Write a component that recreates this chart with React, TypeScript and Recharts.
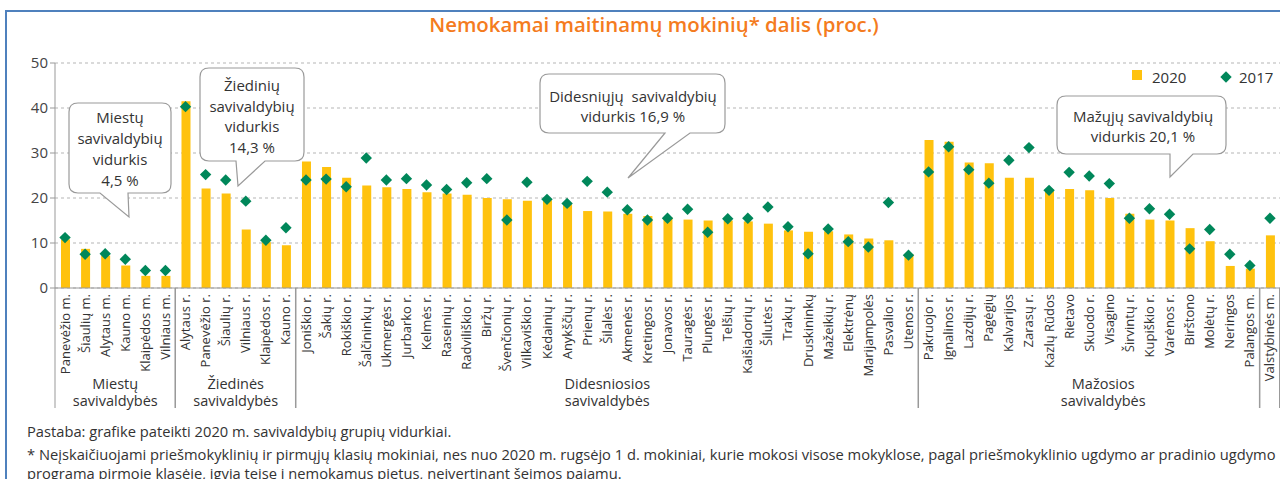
import React from "react";
import {
  ComposedChart,
  Bar,
  Scatter,
  XAxis,
  YAxis,
  CartesianGrid,
} from "recharts";

const municipalities = [
  "Panevėžio m.", "Šiaulių m.", "Alytaus m.", "Kauno m.", "Klaipėdos m.", "Vilniaus m.",
  "Alytaus r.", "Panevėžio r.", "Šiaulių r.", "Vilniaus r.", "Klaipėdos r.", "Kauno r.",
  "Joniškio r.", "Šakių r.", "Rokiškio r.", "Šalčininkų r.", "Ukmergės r.", "Jurbarko r.",
  "Kelmės r.", "Raseinių r.", "Radviliškio r.", "Biržų r.", "Švenčionių r.", "Vilkaviškio r.",
  "Kėdainių r.", "Anykščių r.", "Prienų r.", "Šilalės r.", "Akmenės r.", "Kretingos r.",
  "Jonavos r.", "Tauragės r.", "Plungės r.", "Telšių r.", "Kaišiadorių r.", "Šilutės r.",
  "Trakų r.", "Druskininkų", "Mažeikių r.", "Elektrėnų", "Marijampolės", "Pasvalio r.",
  "Utenos r.",
  "Pakruojo r.", "Ignalinos r.", "Lazdijų r.", "Pagėgių", "Kalvarijos", "Zarasų r.",
  "Kazlų Rūdos", "Rietavo", "Skuodo r.", "Visagino", "Širvintų r.", "Kupiškio r.",
  "Varėnos r.", "Birštono", "Molėtų r.", "Neringos", "Palangos m.",
  "Valstybinės m.",
];

const share2020 = [
  10.8, 8.7, 7.2, 5.0, 2.7, 2.7,
  41.5, 22.1, 21.0, 13.0, 10.2, 9.5,
  28.1, 26.9, 24.5, 22.8, 22.4, 22.0,
  21.3, 21.0, 20.7, 20.0, 19.7, 19.4,
  19.5, 18.6, 17.1, 17.0, 16.5, 16.0,
  15.7, 15.2, 15.0, 15.0, 14.8, 14.3,
  12.8, 12.5, 12.6, 11.9, 11.0, 10.6,
  7.5,
  32.9, 32.5, 27.9, 27.7, 24.5, 24.5,
  21.9, 22.0, 21.7, 20.0, 16.5, 15.2,
  15.0, 13.3, 10.4, 4.9, 4.3,
  11.7,
];

const share2017 = [
  11.2, 7.5, 7.6, 6.4, 3.9, 3.9,
  40.3, 25.2, 24.0, 19.3, 10.6, 13.4,
  24.0, 24.2, 22.5, 28.9, 24.0, 24.3,
  22.9, 21.9, 23.4, 24.3, 15.1, 23.5,
  19.7, 18.8, 23.7, 21.3, 17.4, 15.1,
  15.5, 17.5, 12.4, 15.4, 15.5, 18.0,
  13.6, 7.6, 13.1, 10.3, 9.1, 19.0,
  7.3,
  25.8, 31.4, 26.3, 23.3, 28.4, 31.2,
  21.7, 25.7, 24.9, 23.2, 15.5, 17.6,
  16.4, 8.7, 13.0, 7.5, 5.0,
  15.5,
];

const groupNames = [
  ["Miestų", "savivaldybės"],
  ["Žiedinės", "savivaldybės"],
  ["Didesniosios", "savivaldybės"],
  ["Mažosios", "savivaldybės"],
  ["", ""],
];
const groupSizes = [6, 6, 31, 17, 1];

const calloutTexts = [
  ["Miestų", "savivaldybių", "vidurkis", "4,5 %"],
  ["Žiedinių", "savivaldybių", "vidurkis", "14,3 %"],
  ["Didesniųjų  savivaldybių", "vidurkis 16,9 %"],
  ["Mažųjų savivaldybių", "vidurkis 20,1 %"],
];

const seriesNames = ["2020", "2017"];

const rows = municipalities.map((name, i) => ({
  name,
  y2020: share2020[i],
  y2017: share2017[i],
}));

const FONT = "'Open Sans', 'Noto Sans', sans-serif";
const YELLOW = "#FFC20E";
const GREEN = "#00875A";
const W = 1280;
const H = 479;
const PLOT_LEFT = 55;
const PLOT_RIGHT = 1280;
const PLOT_TOP = 63;
const PLOT_BOTTOM = 288;
const BAND = (PLOT_RIGHT - PLOT_LEFT) / municipalities.length;

// callout boxes: box, pointer base on bottom edge, pointer tip
const calloutBoxes = [
  { x1: 69, y1: 103, x2: 171, y2: 193, b1: 100, b2: 128, tx: 129, ty: 217, cx: 120, top: 123, lh: 21 },
  { x1: 200, y1: 68, x2: 304, y2: 161, b1: 236, b2: 265, tx: 238, ty: 186, cx: 252, top: 91, lh: 20.5 },
  { x1: 540, y1: 74, x2: 725, y2: 133, b1: 665, b2: 690, tx: 628, ty: 178, cx: 633, top: 102, lh: 20 },
  { x1: 1057, y1: 96, x2: 1226, y2: 154, b1: 1170, b2: 1193, tx: 1170, ty: 177, cx: 1143, top: 122, lh: 20 },
];

const calloutPath = (b: any) => {
  const r = 9;
  return [
    `M${b.x1 + r},${b.y1}`,
    `L${b.x2 - r},${b.y1}`,
    `Q${b.x2},${b.y1} ${b.x2},${b.y1 + r}`,
    `L${b.x2},${b.y2 - r}`,
    `Q${b.x2},${b.y2} ${b.x2 - r},${b.y2}`,
    `L${b.b2},${b.y2}`,
    `L${b.tx},${b.ty}`,
    `L${b.b1},${b.y2}`,
    `L${b.x1 + r},${b.y2}`,
    `Q${b.x1},${b.y2} ${b.x1},${b.y2 - r}`,
    `L${b.x1},${b.y1 + r}`,
    `Q${b.x1},${b.y1} ${b.x1 + r},${b.y1}`,
    "Z",
  ].join(" ");
};

const Diamond = (props: any) => {
  const { cx, cy } = props;
  if (cx == null || cy == null) return null;
  const r = 5.7;
  return (
    <polygon
      points={`${cx},${cy - r} ${cx + r},${cy} ${cx},${cy + r} ${cx - r},${cy}`}
      fill={GREEN}
    />
  );
};

const RotatedTick = (props: any) => {
  const { x, y, payload } = props;
  const tx = x + 4.5;
  const ty = y + 6;
  return (
    <text
      x={tx}
      y={ty}
      transform={`rotate(-90 ${tx} ${ty})`}
      textAnchor="end"
      fontSize={13}
      fontFamily={FONT}
      fill="#333"
    >
      {payload.value}
    </text>
  );
};

const App = () => {
  let start = 0;
  const groups = groupSizes.map((n, i) => {
    const g = { x1: PLOT_LEFT + start * BAND, x2: PLOT_LEFT + (start + n) * BAND, label: groupNames[i] };
    start += n;
    return g;
  });

  return (
    <div
      style={{
        position: "absolute",
        left: 0,
        top: 0,
        width: W,
        height: H,
        overflow: "hidden",
        background: "#fff",
        fontFamily: FONT,
      }}
    >
      <ComposedChart
        width={W}
        height={H}
        data={rows}
        margin={{ top: PLOT_TOP, right: 0, left: 15, bottom: 71 }}
      >
        <CartesianGrid
          vertical={false}
          stroke="#b5b5b5"
          strokeDasharray="3 3"
        />
        <XAxis
          dataKey="name"
          interval={0}
          height={120}
          tickLine={false}
          tickSize={0}
          tickMargin={0}
          axisLine={{ stroke: "#999" }}
          tick={<RotatedTick />}
        />
        <YAxis
          width={40}
          domain={[0, 50]}
          ticks={[0, 10, 20, 30, 40, 50]}
          axisLine={{ stroke: "#999" }}
          tickLine={{ stroke: "#999" }}
          tickSize={5}
          tick={{ fontSize: 15, fill: "#444", fontFamily: FONT }}
        />
        <Bar
          dataKey="y2020"
          name={seriesNames[0]}
          fill={YELLOW}
          barSize={9}
          isAnimationActive={false}
        />
        <Scatter
          dataKey="y2017"
          name={seriesNames[1]}
          fill={GREEN}
          shape={Diamond}
          isAnimationActive={false}
        />
      </ComposedChart>

      <svg
        width={W}
        height={H}
        style={{ position: "absolute", left: 0, top: 0, pointerEvents: "none" }}
      >
        {/* frame */}
        <rect x={6} y={11} width={1300} height={520} fill="none" stroke="#4F81BD" strokeWidth={2} />

        <text
          x={654}
          y={32}
          textAnchor="middle"
          fontSize={20.4}
          fontWeight={600}
          fill="#F47B20"
          fontFamily={FONT}
        >
          Nemokamai maitinamų mokinių* dalis (proc.)
        </text>

        {/* group separators and labels */}
        {groups.map((g, i) => (
          <g key={i}>
            <line x1={g.x1} y1={PLOT_BOTTOM} x2={g.x1} y2={408} stroke="#999" />
            <line x1={g.x2 - 0.5} y1={PLOT_BOTTOM} x2={g.x2 - 0.5} y2={408} stroke="#999" />
            {g.label.map((t, j) => (
              <text
                key={j}
                x={(g.x1 + g.x2) / 2 + (i === 3 ? 14 : 0)}
                y={389 + j * 16.5}
                textAnchor="middle"
                fontSize={14.5}
                fill="#333"
                fontFamily={FONT}
              >
                {t}
              </text>
            ))}
          </g>
        ))}

        {/* callouts */}
        {calloutBoxes.map((b, i) => (
          <g key={i}>
            <path d={calloutPath(b)} fill="#fff" stroke="#9a9a9a" strokeWidth={1.2} />
            {calloutTexts[i].map((t, j) => (
              <text
                key={j}
                x={b.cx}
                y={b.top + j * b.lh}
                textAnchor="middle"
                fontSize={15}
                fill="#333"
                fontFamily={FONT}
                style={{ whiteSpace: "pre" }}
              >
                {t}
              </text>
            ))}
          </g>
        ))}

        {/* legend */}
        <rect x={1132} y={70} width={10} height={10} fill={YELLOW} />
        <text x={1152} y={83} fontSize={15} fill="#333" fontFamily={FONT}>
          {seriesNames[0]}
        </text>
        <Diamond cx={1226} cy={77} />
        <text x={1239} y={83} fontSize={15} fill="#333" fontFamily={FONT}>
          {seriesNames[1]}
        </text>

        {/* notes */}
        <text x={27} y={437} fontSize={14.7} fill="#333" fontFamily={FONT}>
          Pastaba: grafike pateikti 2020 m. savivaldybių grupių vidurkiai.
        </text>
        <text x={27} y={460} fontSize={14.7} fill="#333" fontFamily={FONT}>
          * Neįskaičiuojami priešmokyklinių ir pirmųjų klasių mokiniai, nes nuo 2020 m. rugsėjo 1 d. mokiniai, kurie mokosi visose mokyklose, pagal priešmokyklinio ugdymo ar pradinio ugdymo
        </text>
        <text x={27} y={479} fontSize={14.7} fill="#333" fontFamily={FONT}>
          programa pirmoje klasėje, įgyja teisę į nemokamus pietus, neįvertinant šeimos pajamų.
        </text>
      </svg>
    </div>
  );
};

export default App;
